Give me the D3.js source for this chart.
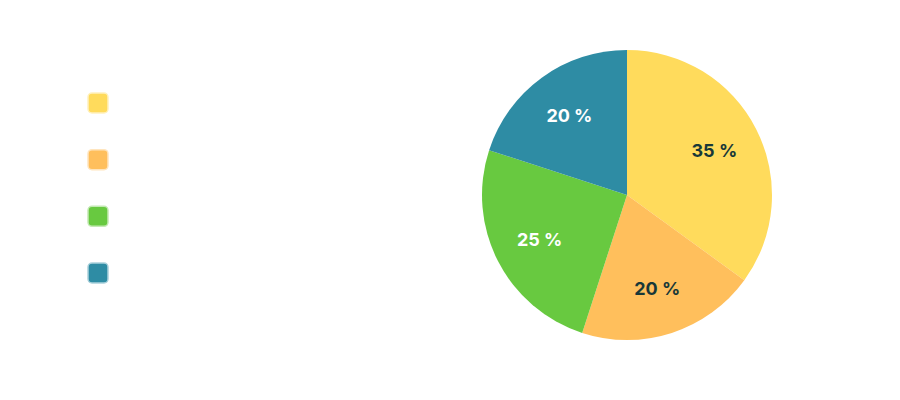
<!DOCTYPE html>
<html><head><meta charset="utf-8">
<script src="https://cdn.jsdelivr.net/npm/d3@7"></script>
<style>body{margin:0;background:#fff;} svg{display:block;}</style>
</head><body>
<svg id="c" width="900" height="400"></svg>
<script>
const categories = ["North America", "Europe, Middle East & Africa", "Latin America", "Asia/Pacific"];
const values = [35, 20, 25, 20];
const legendLabels = ["North America - 35%", "Europe, Middle East & Africa - 20%", "Latin America - 25%", "Asia/Pacific - 20%"];
const colors = ["#FFDB5C", "#FFBF5C", "#68C940", "#2E8CA4"];
const labelColors = ["#183838", "#183838", "#ffffff", "#ffffff"];

const svg = d3.select("#c");
const cx = 627, cy = 195, R = 145;
const pie = d3.pie().sort(null).value(d => d)(values);
const arc = d3.arc().innerRadius(0).outerRadius(R);
const labelArc = d3.arc().innerRadius(98).outerRadius(98);
const g = svg.append("g").attr("transform", `translate(${cx},${cy})`);
g.selectAll("path").data(pie).join("path")
  .attr("d", arc).attr("fill", (d,i) => colors[i]);
g.selectAll("text").data(pie).join("text")
  .attr("transform", d => `translate(${labelArc.centroid(d)})`)
  .attr("text-anchor", "middle").attr("dy", "0.35em")
  .attr("font-family", "Inter, sans-serif").attr("font-weight", 700).attr("font-size", 18)
  .attr("fill", (d,i) => labelColors[i])
  .text(d => d.data + " %");

svg.append("clipPath").attr("id","lc").append("rect").attr("x",80).attr("y",60).attr("width",210).attr("height",260);
const y = d3.scalePoint().domain(categories).range([103, 273]);
const lg = svg.append("g");
const rows = lg.selectAll("g").data(categories).join("g")
  .attr("transform", d => `translate(0,${y(d)})`);
rows.append("rect").attr("x", 88).attr("y", -10).attr("width", 20).attr("height", 20).attr("rx", 4)
  .attr("fill", (d,i) => colors[i])
  .attr("stroke", (d,i) => d3.interpolateRgb(colors[i], "#ffffff")(0.6)).attr("stroke-width", 1.5);
rows.append("text").attr("x", 130).attr("dy", "0.35em")
  .attr("clip-path", "url(#lc)")
  .attr("font-family", "Inter, sans-serif").attr("font-weight", 700).attr("font-size", 15)
  .attr("fill", "#eff3e2")
  .text((d,i) => legendLabels[i]);
</script>
</body></html>
